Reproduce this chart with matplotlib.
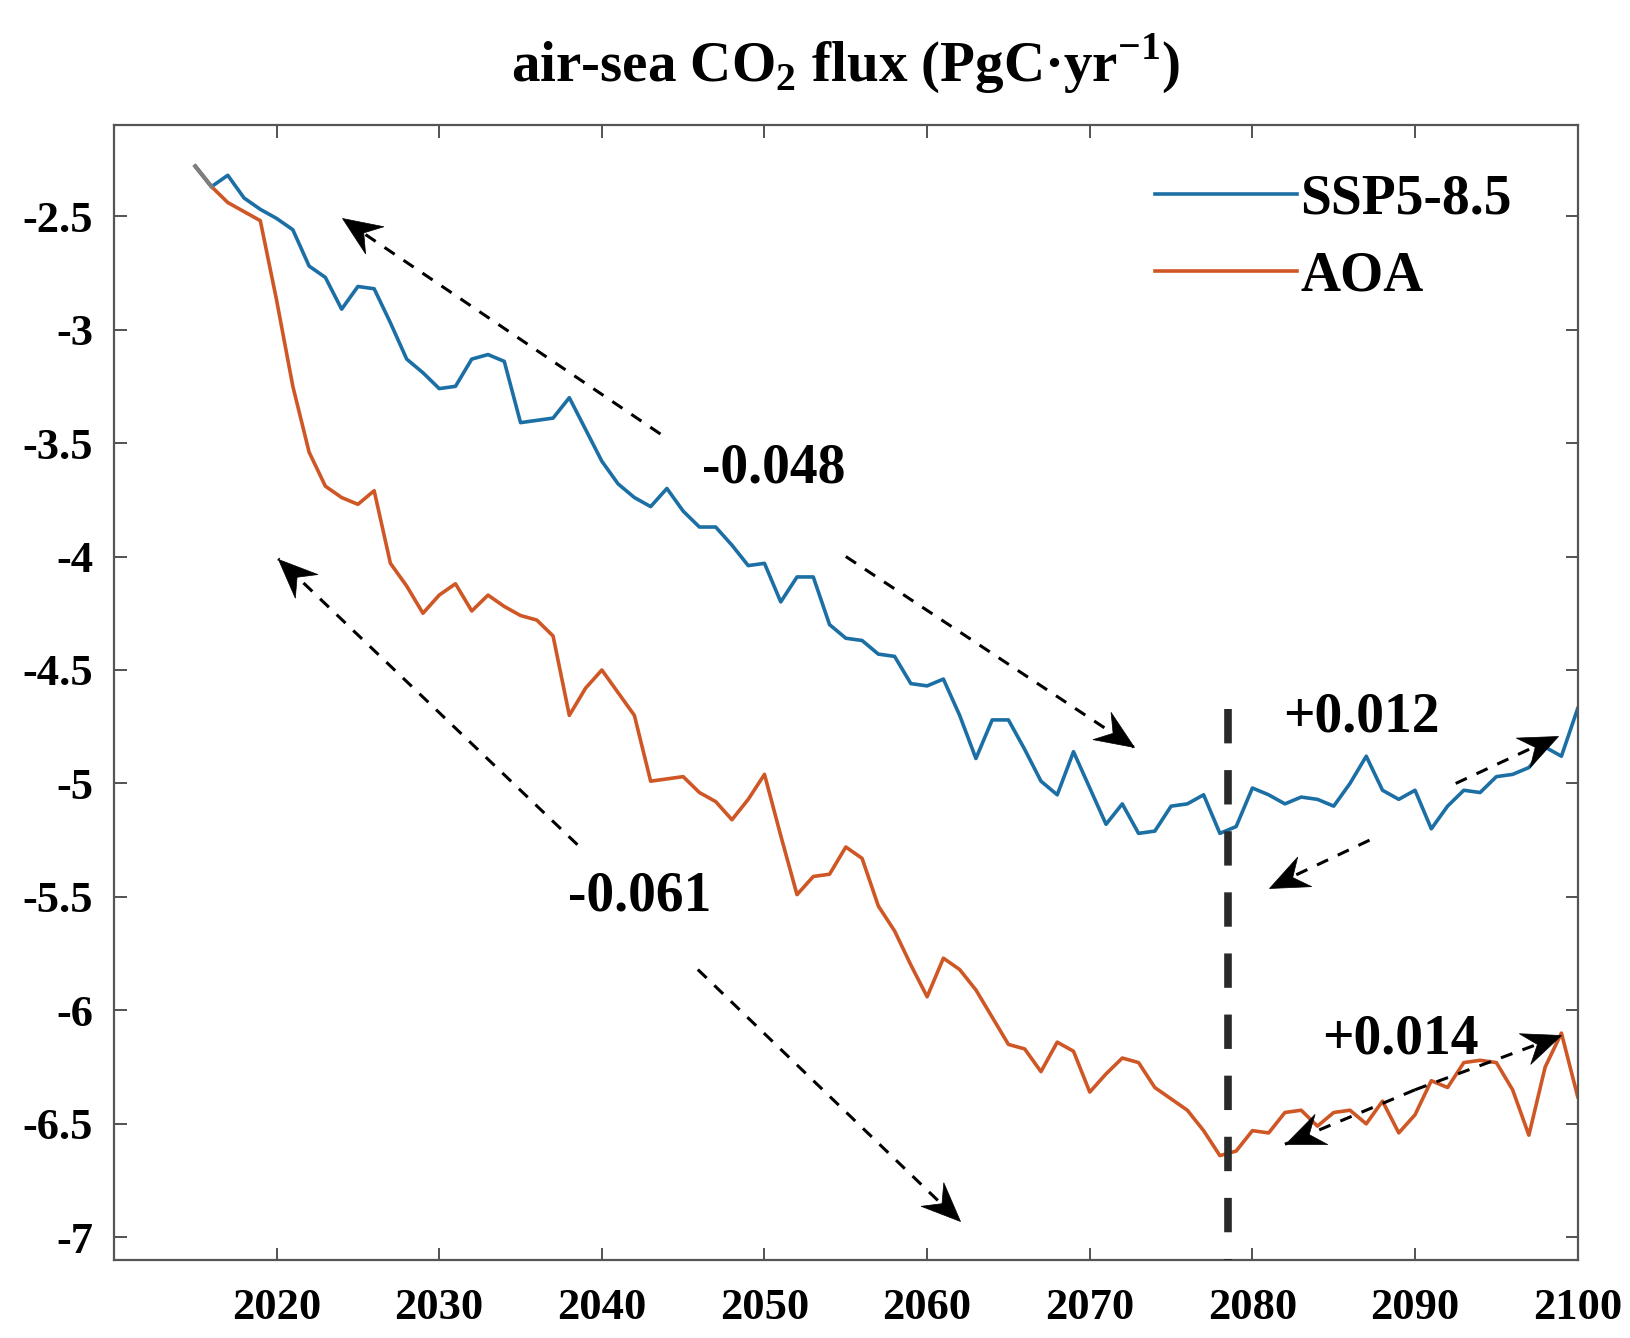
import numpy as np
import matplotlib
matplotlib.use('Agg')
import matplotlib.pyplot as plt
from matplotlib.ticker import FuncFormatter
from matplotlib.path import Path
from matplotlib.markers import MarkerStyle
from matplotlib.transforms import Affine2D

# annual air-sea CO2 flux (PgC/yr)
years = np.arange(2015, 2101)
ssp585 = [-2.28, -2.37, -2.32, -2.42, -2.47, -2.51, -2.56, -2.72, -2.77, -2.91,
          -2.81, -2.82, -2.97, -3.13, -3.19, -3.26, -3.25, -3.13, -3.11, -3.14,
          -3.41, -3.40, -3.39, -3.30, -3.44, -3.58, -3.68, -3.74, -3.78, -3.70,
          -3.80, -3.87, -3.87, -3.95, -4.04, -4.03, -4.20, -4.09, -4.09, -4.30,
          -4.36, -4.37, -4.43, -4.44, -4.56, -4.57, -4.54, -4.70, -4.89, -4.72,
          -4.72, -4.85, -4.99, -5.05, -4.86, -5.02, -5.18, -5.09, -5.22, -5.21,
          -5.10, -5.09, -5.05, -5.22, -5.19, -5.02, -5.05, -5.09, -5.06, -5.07,
          -5.10, -5.00, -4.88, -5.03, -5.07, -5.03, -5.20, -5.10, -5.03, -5.04,
          -4.97, -4.96, -4.93, -4.84, -4.88, -4.67]
aoa = [-2.28, -2.37, -2.44, -2.48, -2.52, -2.87, -3.25, -3.54, -3.69, -3.74,
       -3.77, -3.71, -4.03, -4.13, -4.25, -4.17, -4.12, -4.24, -4.17, -4.22,
       -4.26, -4.28, -4.35, -4.70, -4.58, -4.50, -4.60, -4.70, -4.99, -4.98,
       -4.97, -5.04, -5.08, -5.16, -5.07, -4.96, -5.23, -5.49, -5.41, -5.40,
       -5.28, -5.33, -5.54, -5.65, -5.80, -5.94, -5.77, -5.82, -5.91, -6.03,
       -6.15, -6.17, -6.27, -6.14, -6.18, -6.36, -6.28, -6.21, -6.23, -6.34,
       -6.39, -6.44, -6.53, -6.64, -6.62, -6.53, -6.54, -6.45, -6.44, -6.51,
       -6.45, -6.44, -6.50, -6.40, -6.54, -6.46, -6.31, -6.34, -6.23, -6.22,
       -6.23, -6.35, -6.55, -6.25, -6.10, -6.38]
assert len(ssp585) == len(years) and len(aoa) == len(years)

turn_year = 2078.5
trend_labels = ['-0.048', '-0.061', '+0.012', '+0.014']
trend_text_pos = [(2050.6, -3.61), (2042.3, -5.50), (2086.7, -4.71), (2089.1, -6.13)]

serif = ['Liberation Serif', 'DejaVu Serif']
plt.rcParams['font.family'] = serif
plt.rcParams['mathtext.fontset'] = 'custom'
plt.rcParams['mathtext.rm'] = 'Liberation Serif:bold'
plt.rcParams['mathtext.bf'] = 'Liberation Serif:bold'

fig = plt.figure(figsize=(16.3, 13.38), dpi=100)
ax = fig.add_axes([0.0699, 0.0583, 0.898, 0.848])
ax.set_xlim(2010, 2100)
ax.set_ylim(-7.1, -2.1)

blue = '#1c6fa4'
orange = '#cf5726'
ax.plot(years, ssp585, color=blue, lw=2.6, label='SSP5-8.5')
ax.plot(years, aoa, color=orange, lw=2.6, label='AOA')
ax.plot(years[:2], ssp585[:2], color='#7f7f7f', lw=2.9)

# vertical turning-point line
ax.plot([turn_year, turn_year], [-4.67, -7.1], color='#2a2a2a', lw=5.5,
        linestyle=(0, (4.5, 3.5)), solid_capstyle='butt', zorder=4)

dash = (0, (4, 3.5))
# swept-back arrow head, tip at origin pointing along +x
head_path = Path([(0, 0), (-1, 0.42), (-0.66, 0), (-1, -0.42), (0, 0)],
                 [Path.MOVETO, Path.LINETO, Path.LINETO, Path.LINETO, Path.CLOSEPOLY])


def dashed_arrow(start, tip):
    ax.plot([start[0], tip[0]], [start[1], tip[1]], color='k', lw=2.2,
            linestyle=dash, zorder=5)
    p0 = ax.transData.transform(start)
    p1 = ax.transData.transform(tip)
    ang = np.degrees(np.arctan2(p1[1] - p0[1], p1[0] - p0[0]))
    m = MarkerStyle(head_path, transform=Affine2D().rotate_deg(ang))
    ax.plot(tip[0], tip[1], marker=m, ms=56, color='k', mec='k', mew=0.5,
            linestyle='none', zorder=5)


# SSP5-8.5 decline
dashed_arrow((2043.6, -3.46), (2024.0, -2.51))
dashed_arrow((2055.0, -4.00), (2072.7, -4.84))
# AOA decline
dashed_arrow((2038.5, -5.27), (2020.1, -4.01))
dashed_arrow((2045.9, -5.82), (2062.0, -6.93))
# SSP5-8.5 recovery
dashed_arrow((2087.2, -5.25), (2081.0, -5.46))
dashed_arrow((2092.5, -5.00), (2098.8, -4.79))
# AOA recovery
dashed_arrow((2090.0, -6.35), (2082.0, -6.59))
dashed_arrow((2090.0, -6.35), (2099.0, -6.11))

for lab, pos in zip(trend_labels, trend_text_pos):
    ax.text(pos[0], pos[1], lab, fontsize=40, fontweight='bold',
            ha='center', va='center', family=serif, zorder=6)

ax.set_xticks(np.arange(2020, 2101, 10))
ax.set_yticks(np.arange(-7, -2.4, 0.5))
ax.yaxis.set_major_formatter(FuncFormatter(lambda v, p: '%g' % v))
ax.tick_params(direction='in', length=9, width=1.3, color='#444444',
               top=True, right=True, labelsize=32)
ax.tick_params(axis='x', pad=20)
ax.tick_params(axis='y', pad=15)
for lbl in ax.get_xticklabels() + ax.get_yticklabels():
    lbl.set_fontweight('bold')
for s in ax.spines.values():
    s.set_color('#555555')
    s.set_linewidth(1.6)

ax.set_title('air-sea CO$_{2}$ flux (PgC·yr$^{-1}$)', fontsize=41,
             fontweight='bold', pad=32)

leg = ax.legend(loc='upper right', bbox_to_anchor=(0.955, 0.958), frameon=False,
                handlelength=2.56, handletextpad=0.06, labelspacing=0.45,
                borderaxespad=0, borderpad=0,
                prop={'family': serif, 'weight': 'bold', 'size': 40})

fig.savefig('out.png', dpi=100)
